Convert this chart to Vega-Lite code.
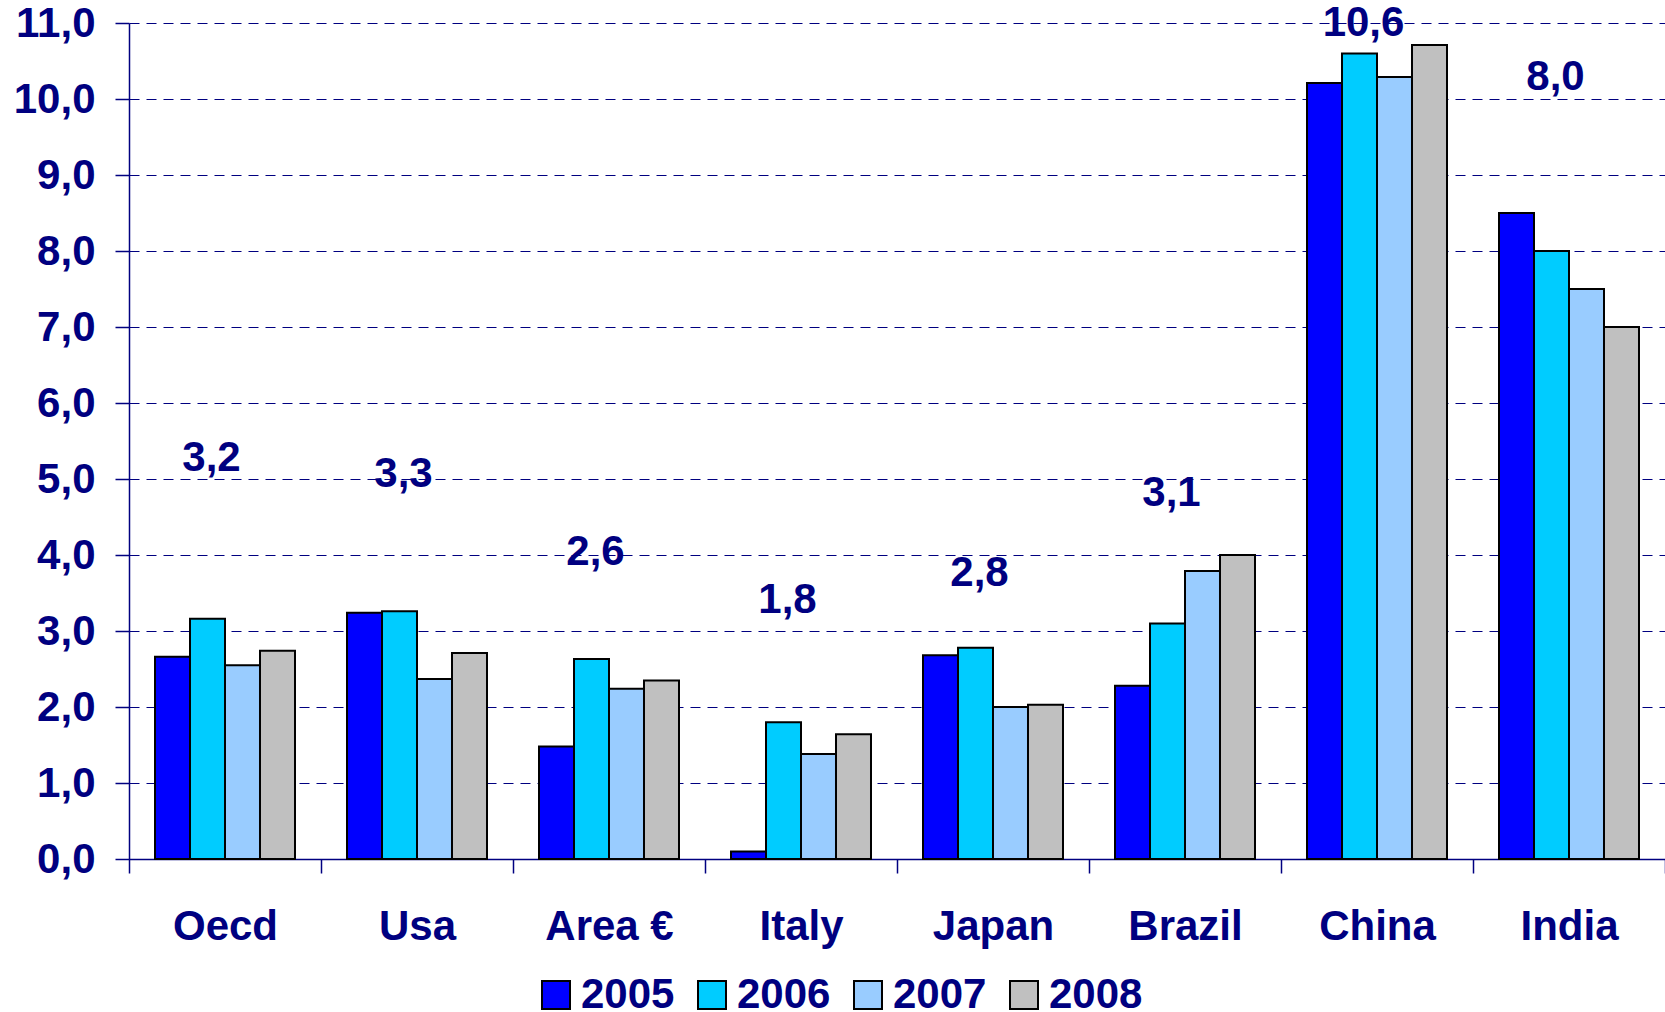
{
  "$schema": "https://vega.github.io/schema/vega-lite/v6.json",
  "width": 1536,
  "height": 836,
  "autosize": {"type": "none"},
  "padding": {"left": 129, "top": 23, "right": 0, "bottom": 153},
  "background": "white",
  "config": {
    "locale": {"number": {"decimal": ",", "thousands": ".", "grouping": [3], "currency": ["", " €"]}},
    "view": {"stroke": null},
    "font": "Liberation Sans"
  },
  "datasets": {
    "bars": [
      {"country": "Oecd", "year": "2005", "value": 2.66},
      {"country": "Oecd", "year": "2006", "value": 3.16},
      {"country": "Oecd", "year": "2007", "value": 2.55},
      {"country": "Oecd", "year": "2008", "value": 2.74},
      {"country": "Usa", "year": "2005", "value": 3.24},
      {"country": "Usa", "year": "2006", "value": 3.26},
      {"country": "Usa", "year": "2007", "value": 2.37},
      {"country": "Usa", "year": "2008", "value": 2.71},
      {"country": "Area €", "year": "2005", "value": 1.48},
      {"country": "Area €", "year": "2006", "value": 2.63},
      {"country": "Area €", "year": "2007", "value": 2.24},
      {"country": "Area €", "year": "2008", "value": 2.35},
      {"country": "Italy", "year": "2005", "value": 0.1},
      {"country": "Italy", "year": "2006", "value": 1.8},
      {"country": "Italy", "year": "2007", "value": 1.38},
      {"country": "Italy", "year": "2008", "value": 1.64},
      {"country": "Japan", "year": "2005", "value": 2.68},
      {"country": "Japan", "year": "2006", "value": 2.78},
      {"country": "Japan", "year": "2007", "value": 2.0},
      {"country": "Japan", "year": "2008", "value": 2.03},
      {"country": "Brazil", "year": "2005", "value": 2.28},
      {"country": "Brazil", "year": "2006", "value": 3.1},
      {"country": "Brazil", "year": "2007", "value": 3.79},
      {"country": "Brazil", "year": "2008", "value": 4.0},
      {"country": "China", "year": "2005", "value": 10.21},
      {"country": "China", "year": "2006", "value": 10.6},
      {"country": "China", "year": "2007", "value": 10.29},
      {"country": "China", "year": "2008", "value": 10.71},
      {"country": "India", "year": "2005", "value": 8.5},
      {"country": "India", "year": "2006", "value": 8.0},
      {"country": "India", "year": "2007", "value": 7.5},
      {"country": "India", "year": "2008", "value": 7.0}
    ],
    "labels": [
      {"country": "Oecd", "year": "2006", "value": 3.2, "pos": 5.27},
      {"country": "Usa", "year": "2006", "value": 3.3, "pos": 5.06},
      {"country": "Area €", "year": "2006", "value": 2.6, "pos": 4.04},
      {"country": "Italy", "year": "2006", "value": 1.8, "pos": 3.41},
      {"country": "Japan", "year": "2006", "value": 2.8, "pos": 3.76},
      {"country": "Brazil", "year": "2006", "value": 3.1, "pos": 4.81},
      {"country": "China", "year": "2006", "value": 10.6, "pos": 11.0},
      {"country": "India", "year": "2006", "value": 8.0, "pos": 10.29}
    ]
  },
  "layer": [
    {
      "data": {"name": "bars"},
      "mark": {"type": "bar", "stroke": "#000000", "strokeWidth": 2},
      "encoding": {
        "x": {
          "field": "country", "type": "nominal",
          "sort": ["Oecd", "Usa", "Area €", "Italy", "Japan", "Brazil", "China", "India"],
          "scale": {"paddingInner": 0, "paddingOuter": 0},
          "axis": {
            "title": null, "labelAngle": 0, "tickBand": "extent",
            "domainColor": "#000080", "domainWidth": 1.5,
            "tickColor": "#000080", "tickSize": 14, "tickWidth": 1.5,
            "labelColor": "#000080", "labelFont": "Liberation Sans", "labelFontSize": 42, "labelFontWeight": "bold",
            "labelPadding": 33, "grid": false
          }
        },
        "xOffset": {
          "field": "year", "type": "nominal",
          "scale": {"paddingInner": 0, "paddingOuter": 0.743}
        },
        "y": {
          "field": "value", "type": "quantitative",
          "scale": {"domain": [0, 11], "nice": false},
          "axis": {
            "title": null, "values": [0, 1, 2, 3, 4, 5, 6, 7, 8, 9, 10, 11], "format": ".1f",
            "domainColor": "#000080", "domainWidth": 1.5,
            "tickColor": "#000080", "tickSize": 14, "tickWidth": 1.5,
            "labelColor": "#000080", "labelFont": "Liberation Sans", "labelFontSize": 42, "labelFontWeight": "bold",
            "labelPadding": 20,
            "grid": true, "gridColor": "#000080", "gridDash": [10, 7], "gridWidth": 1.2
          }
        },
        "color": {
          "field": "year", "type": "nominal",
          "scale": {"domain": ["2005", "2006", "2007", "2008"], "range": ["#0000FF", "#00CCFF", "#99CCFF", "#C0C0C0"]},
          "legend": {
            "title": null, "orient": "none", "direction": "horizontal",
            "legendX": 406, "legendY": 951,
            "symbolType": "square", "symbolSize": 784, "symbolStrokeColor": "#000000", "symbolStrokeWidth": 2,
            "labelColor": "#000080", "labelFont": "Liberation Sans", "labelFontSize": 42, "labelFontWeight": "bold",
            "labelOffset": 4, "columnPadding": 16, "labelLimit": 300
          }
        }
      }
    },
    {
      "data": {"name": "labels"},
      "mark": {"type": "text", "color": "#000080", "font": "Liberation Sans", "fontSize": 42, "fontWeight": "bold", "baseline": "middle", "align": "center", "dx": 4},
      "encoding": {
        "x": {"field": "country", "type": "nominal", "sort": ["Oecd", "Usa", "Area €", "Italy", "Japan", "Brazil", "China", "India"]},
        "xOffset": {"field": "year", "type": "nominal"},
        "y": {"field": "pos", "type": "quantitative"},
        "text": {"field": "value", "type": "quantitative", "format": ".1f"}
      }
    }
  ]
}
